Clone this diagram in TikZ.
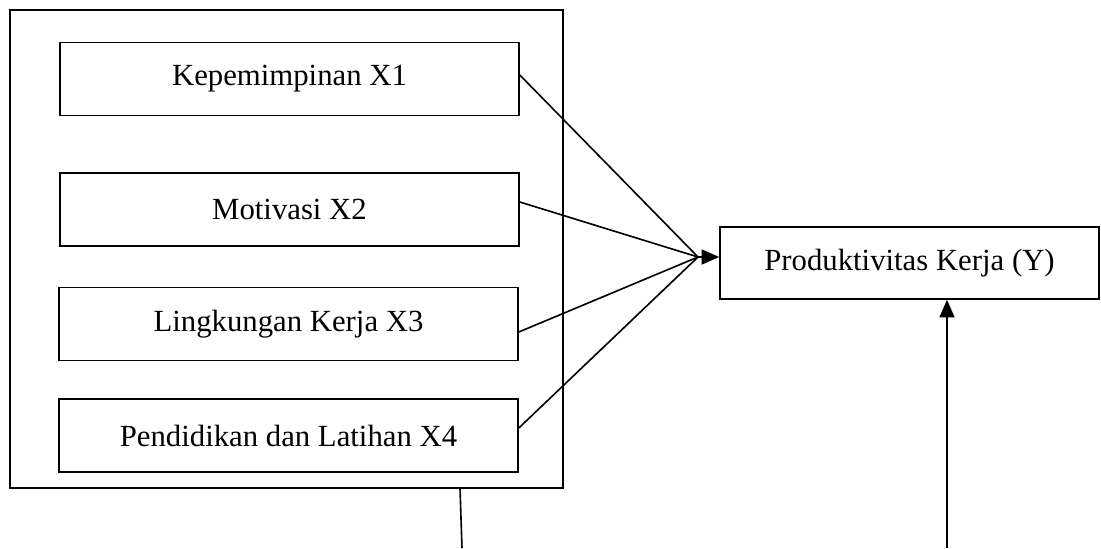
\documentclass[tikz,border=0pt]{standalone}
\usepackage{fontspec}
\setmainfont{Liberation Serif}
\usetikzlibrary{arrows.meta}
\usetikzlibrary{positioning}
\tikzset {
  % garis penghubung
  garis/.style = {
    draw = black,
    line width = 0.65pt
  },
  panah/.style = {
    garis,
    -{Triangle[length = 7pt, width = 6pt]}
  }
}
\tikzset {
  kotak/.style = {
    draw = black,
    line width = 0.65pt,
    rectangle,
    inner sep = 0,
    font = \fontsize{12.3}{14}\selectfont
  },
  % variabel bebas
  varx/.style = {
    kotak,
    minimum width = 183.6pt,
    minimum height = 29.2pt
  },
  % variabel terikat
  vary/.style = {
    kotak,
    minimum width = 151.6pt,
    minimum height = 28.8pt
  }
}

\begin{document}
\begin{tikzpicture}[x = 0.4pt, y = -0.4pt]
    \useasboundingbox (0,0) rectangle (1101,548);
    \node[kotak, minimum width = 221.2pt, minimum height = 191.2pt] (grup) at (286.5,249) {};
    \node[varx] (x1) at (289.5,79) {Kepemimpinan X1};
    \node[varx] (x2) at (289.5,209.5) {Motivasi X2};
    \node[varx] (x3) at (288.5,324) {Lingkungan Kerja X3};
    \node[varx] (x4) at (288.5,435.5) {Pendidikan dan Latihan X4};
    \node[vary] (y) at (909.5,263) {Produktivitas Kerja (Y)};
    \coordinate (hub) at (698,257);
    \coordinate (grup-bawah) at (460,488);
    \coordinate (kiri) at (462,548);
    \coordinate (kanan) at (947,548);

    \draw[garis] ([yshift=1.6pt]x1.east) -- (hub);
    \draw[garis] ([yshift=3pt]x2.east) -- (hub);
    \draw[garis] ([yshift=-3.2pt]x3.east) -- (hub);
    \draw[garis] ([yshift=3pt]x4.east) -- (hub);
    \draw[panah] (hub) -- (hub -| y.west);
    \draw[garis] (grup-bawah) -- (kiri);
    \draw[panah] (kanan) -- (kanan |- y.south);
\end{tikzpicture}
\end{document}
